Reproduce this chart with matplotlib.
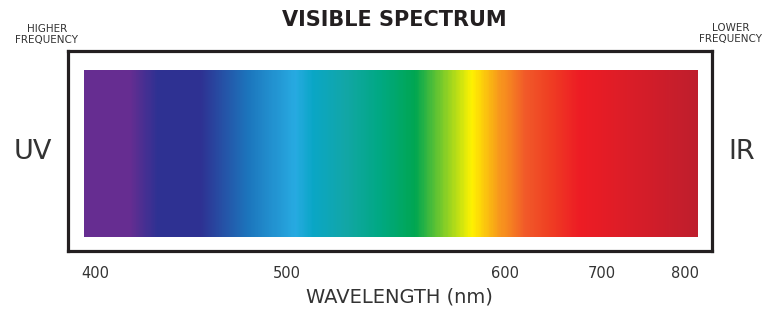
import numpy as np
import matplotlib
matplotlib.use("Agg")
import matplotlib.pyplot as plt
from matplotlib.colors import LinearSegmentedColormap, Normalize

# tick wavelengths (nm) and where they sit along the bar (schematic, non-linear)
tick_nm = [400, 500, 600, 700, 800]
tick_pos = [96, 287, 505, 602, 685]

# colour stops along the spectrum (nm, colour)
stop_nm = [394, 418, 432, 455, 480, 504, 512, 527, 543, 559, 585, 598, 621, 644, 677, 816]
stop_colors = ["#662d91", "#662d91", "#2e3192", "#2e3192", "#1c75bc", "#27aae1",
               "#0aa6c6", "#12a6a6", "#00a882", "#00a651", "#fff200", "#f7941d",
               "#f15a29", "#ef4123", "#ed1c24", "#be1e2d"]

title = "VISIBLE SPECTRUM"
left_label, right_label = "UV", "IR"
left_note, right_note = "HIGHER\nFREQUENCY", "LOWER\nFREQUENCY"
xlabel = "WAVELENGTH (nm)"

INK = "#231f20"
W, H = 768, 311

# piecewise-linear scale through the tick positions, extended linearly at the ends
knots_nm = np.array([300] + tick_nm + [900], dtype=float)
knots_pos = np.array([tick_pos[0] - (tick_pos[1] - tick_pos[0])] + tick_pos
                     + [tick_pos[-1] + (tick_pos[-1] - tick_pos[-2])], dtype=float)


def fwd(x):
    return np.interp(x, knots_nm, knots_pos)


def inv(y):
    return np.interp(y, knots_pos, knots_nm)


fig = plt.figure(figsize=(W / 100, H / 100), dpi=100)

# outer frame
frame = fig.add_axes([68 / W, 1 - 251 / H, (712 - 68) / W, (251 - 51) / H])
frame.set_xticks([])
frame.set_yticks([])
for sp in frame.spines.values():
    sp.set_linewidth(2.3)
    sp.set_color(INK)

# spectrum bar
ax = fig.add_axes([84 / W, 1 - 237 / H, (698 - 84) / W, (237 - 70) / H])
ax.set_xscale("function", functions=(fwd, inv))
lo, hi = stop_nm[0], stop_nm[-1]
cmap = LinearSegmentedColormap.from_list(
    "spectrum", [((s - lo) / (hi - lo), c) for s, c in zip(stop_nm, stop_colors)], N=1024)
edges = np.linspace(lo, hi, 801)
centers = 0.5 * (edges[:-1] + edges[1:])
ax.pcolormesh(edges, [0, 1], centers[None, :], cmap=cmap,
              norm=Normalize(lo, hi), shading="flat", rasterized=True)
ax.set_xlim(lo, hi)
ax.set_ylim(0, 1)
ax.set_yticks([])
ax.set_xticks(tick_nm)
ax.set_xticklabels([str(t) for t in tick_nm])
ax.xaxis.set_minor_locator(matplotlib.ticker.NullLocator())
ax.tick_params(axis="x", length=0, pad=21, labelsize=10.5, labelcolor="#333333")
for sp in ax.spines.values():
    sp.set_visible(False)
ax.set_xlabel(xlabel, fontsize=14, color="#333333")
ax.xaxis.set_label_coords((399 - 84) / (698 - 84), -0.30)

fig.text(394 / W, 1 - 20 / H, title, ha="center", va="center",
         fontsize=15, fontweight="bold", color=INK)
fig.text(33 / W, 1 - 152 / H, left_label, ha="center", va="center",
         fontsize=19.5, color="#333333")
fig.text(742 / W, 1 - 152 / H, right_label, ha="center", va="center",
         fontsize=19.5, color="#333333")
fig.text(47 / W, 1 - 34.5 / H, left_note, ha="center", va="center",
         fontsize=7.5, color="#333333", linespacing=1.2)
fig.text(731 / W, 1 - 33.5 / H, right_note, ha="center", va="center",
         fontsize=7.5, color="#333333", linespacing=1.2)

fig.savefig("out.png", dpi=100)
